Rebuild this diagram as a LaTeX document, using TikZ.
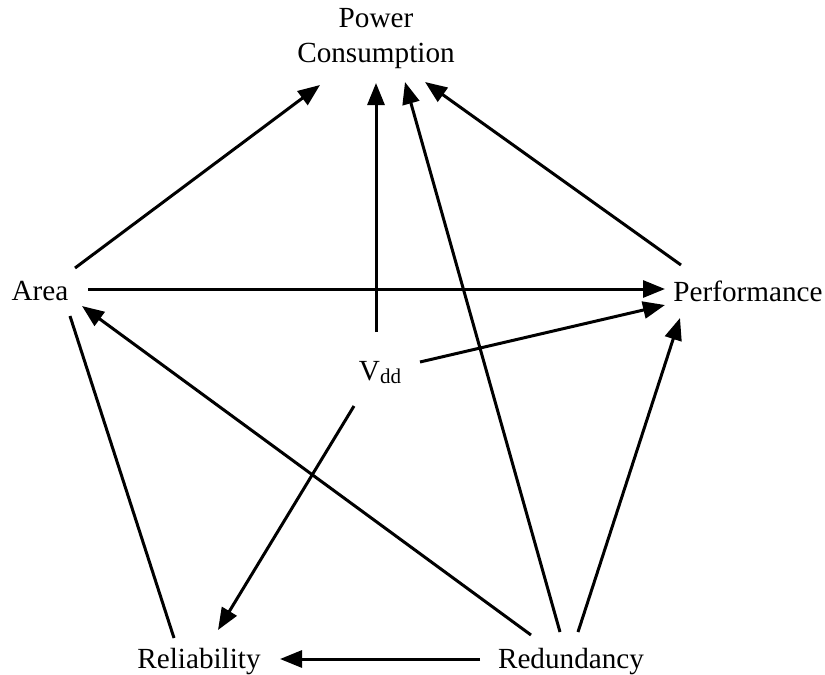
\documentclass[tikz,border=0pt]{standalone}
\usepackage{fontspec}
\setmainfont{Liberation Serif}
\usetikzlibrary{arrows.meta}
\begin{document}
\begin{tikzpicture}[x=0.5pt,y=-0.5pt,
  lbl/.style={inner sep=0pt,font=\fontsize{14.6}{17.5}\selectfont,align=center},
  link/.style={line width=1.5pt},
  arr/.style={link,-{Triangle[length=11pt,width=8.5pt]}}]
\useasboundingbox (0,0) rectangle (825,675);

\node[lbl] (power) at (376,39) {Power\\Consumption};
\node[lbl] (area)  at (40,291) {Area};
\node[lbl] (perf)  at (748,291) {Performance};
\node[lbl] (vdd)   at (380,373) {V\raisebox{-1.5pt}{\fontsize{10.5}{11}\selectfont dd}};
\node[lbl] (rel)   at (199,662) {Reliability};
\node[lbl] (red)   at (571,662) {Redundancy};

% edges into power consumption
\draw[arr] ([shift={(35,-23)}]area.center) -- ([shift={(-56,46)}]power.center);
\draw[arr] ([shift={(-4,-41)}]vdd.center) -- ([shift={(0,44)}]power.center);
\draw[arr] ([shift={(-11,-30)}]red.center) -- ([shift={(29,43)}]power.center);
\draw[arr] ([shift={(-67,-26)}]perf.center) -- ([shift={(49,43)}]power.center);

% edges into performance
\draw[arr] ([shift={(48,-2)}]area.center) -- ([shift={(-83,-2)}]perf.center);
\draw[arr] ([shift={(40,-11)}]vdd.center) -- ([shift={(-83,14)}]perf.center);
\draw[arr] ([shift={(7,-30)}]red.center) -- ([shift={(-68,27)}]perf.center);

% remaining edges
\draw[arr] ([shift={(-40,-27)}]red.center) -- ([shift={(42,15)}]area.center);
\draw[arr] ([shift={(-26,33)}]vdd.center) -- ([shift={(19,-32)}]rel.center);
\draw[link] ([shift={(30,25)}]area.center) -- ([shift={(-25,-24)}]rel.center);
\draw[arr] ([shift={(-91,-3)}]red.center) -- ([shift={(81,-3)}]rel.center);
\end{tikzpicture}
\end{document}
